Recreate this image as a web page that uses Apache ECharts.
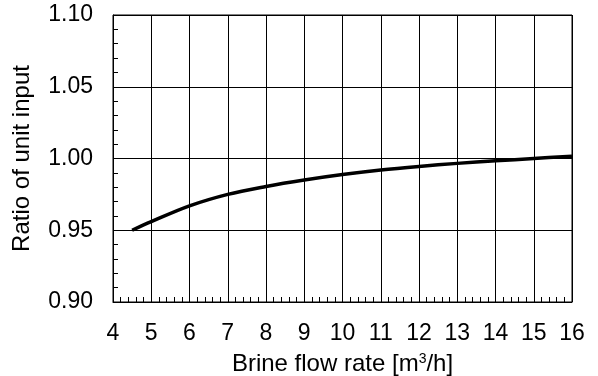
<!DOCTYPE html>
<html>
<head>
<meta charset="utf-8">
<script src="https://cdn.jsdelivr.net/npm/echarts@6/dist/echarts.min.js"></script>
<style>html,body{margin:0;padding:0;background:#fff;}#c{width:598px;height:376px;}</style>
</head>
<body>
<div id="c"></div>
<script>
const flowRate = [4.5, 5, 6, 7, 8, 9, 10, 11, 12, 13, 14, 15, 16];
const unitInputRatio = [0.950, 0.956, 0.967, 0.975, 0.9805, 0.985, 0.9888, 0.992, 0.9945, 0.9966, 0.9984, 1.000, 1.0016];
const xTicks = [4, 5, 6, 7, 8, 9, 10, 11, 12, 13, 14, 15, 16];
const yTicks = [0.90, 0.95, 1.00, 1.05, 1.10];

const chart = echarts.init(document.getElementById('c'), null, {renderer: 'canvas'});
const font = 'Liberation Sans, Arial, sans-serif';
chart.setOption({
  animation: false,
  backgroundColor: '#fff',
  grid: {left: 113, right: 26, top: 15, bottom: 74, containLabel: false, outerBoundsMode: 'none', show: true, borderColor: '#000', borderWidth: 1, backgroundColor: 'transparent'},
  xAxis: {
    type: 'value', min: xTicks[0], max: xTicks[xTicks.length - 1], interval: 1,
    name: 'Brine flow rate [m{sup|3}/h]', nameLocation: 'middle', nameGap: 50,
    nameTextStyle: {fontFamily: font, fontSize: 24, color: '#000', rich: {sup: {fontFamily: font, fontSize: 14, color: '#000', verticalAlign: 'top', padding: [0, 0, 8, 0]}}},
    axisLine: {show: true, lineStyle: {color: '#000', width: 1}},
    axisTick: {show: true, inside: true, length: 5, lineStyle: {color: '#000'}},
    minorTick: {show: true, splitNumber: 5, length: 5, lineStyle: {color: '#000', width: 1}},
    splitLine: {show: true, lineStyle: {color: '#000', width: 1}},
    axisLabel: {fontFamily: font, fontSize: 23, color: '#000', margin: 20, formatter: v => String(v)}
  },
  yAxis: {
    type: 'value', min: yTicks[0], max: yTicks[yTicks.length - 1], interval: 0.05,
    name: 'Ratio of unit input', nameLocation: 'middle', nameGap: 79,
    nameTextStyle: {fontFamily: font, fontSize: 24, color: '#000'},
    axisLine: {show: true, lineStyle: {color: '#000', width: 1}},
    axisTick: {show: true, inside: true, length: 5, lineStyle: {color: '#000'}},
    minorTick: {show: true, splitNumber: 5, length: 5, lineStyle: {color: '#000', width: 1}},
    splitLine: {show: true, lineStyle: {color: '#000', width: 1}},
    axisLabel: {fontFamily: font, fontSize: 23, color: '#000', margin: 20, formatter: v => v.toFixed(2)}
  },
  series: [{
    type: 'line', data: flowRate.map((x, i) => [x, unitInputRatio[i]]),
    smooth: 0.35, showSymbol: false, symbol: 'none',
    lineStyle: {color: '#000', width: 3.5}
  }]
});
</script>
</body>
</html>
